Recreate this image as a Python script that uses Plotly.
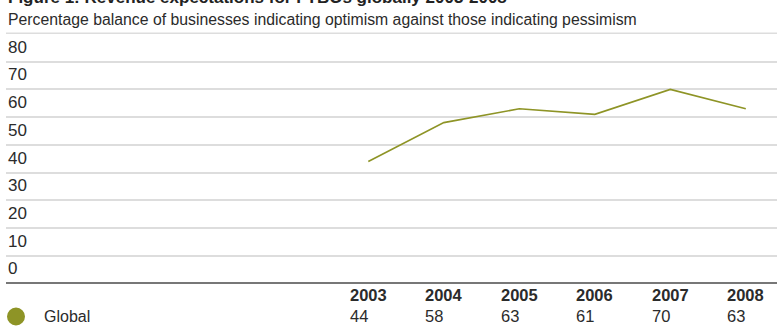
import plotly.graph_objects as go

# Revenue expectations, percentage balance (optimists minus pessimists)
years = [2003, 2004, 2005, 2006, 2007, 2008]
global_balance = [44, 58, 63, 61, 70, 63]
series_name = "Global"
y_ticks = [0, 10, 20, 30, 40, 50, 60, 70, 80]

title_text = "Figure 1: Revenue expectations for FTBOs globally 2003-2008"
subtitle_text = "Percentage balance of businesses indicating optimism against those indicating pessimism"

W, H = 777, 327
OLIVE = "#8e9426"
FONT = "Liberation Sans, Arial, sans-serif"
TEXT = "#2b2b2b"

# pixel helpers for layout placement
def px(x):
    return x / W

def py(y):
    return 1 - y / H

# axis scale: value 0 sits at y=283.3px, value 80 at y=61.7px
y_per_unit = (283.3 - 61.7) / 80.0
y_lo = -(H - 283.3) / y_per_unit
y_hi = 80 + 61.7 / y_per_unit

# x scale: 2003 at 368.3px, 75.5px per year, axis starts at 6px
x_per_year = 75.5
x_left_px = 6
x_lo = years[0] - (368.3 - x_left_px) / x_per_year
x_hi = years[-1] + (W - (368.3 + 5 * x_per_year)) / x_per_year

fig = go.Figure()
fig.add_trace(go.Scatter(
    x=years, y=global_balance, mode="lines", name=series_name,
    line=dict(color=OLIVE, width=1.6), hoverinfo="skip", showlegend=False,
))

annotations = []
# title (partly above the visible area) and subtitle
annotations.append(dict(
    text=f"<b>{title_text}</b>", xref="paper", yref="paper",
    x=px(6), y=py(9), xanchor="left", yanchor="bottom", showarrow=False,
    font=dict(family=FONT, size=17, color="#222")))
annotations.append(dict(
    text=subtitle_text, xref="paper", yref="paper",
    x=px(6), y=py(19), xanchor="left", yanchor="middle", showarrow=False,
    font=dict(family=FONT, size=15.8, color=TEXT)))

# y labels sit just above their gridlines
for t in y_ticks:
    annotations.append(dict(
        text=str(t), xref="paper", yref="y", x=px(6), y=t,
        xanchor="left", yanchor="bottom", yshift=3, showarrow=False,
        font=dict(family=FONT, size=17, color=TEXT)))

# data table under the chart
for yr, v in zip(years, global_balance):
    annotations.append(dict(
        text=f"<b>{yr}</b><br>{v}", xref="x", yref="paper", x=yr, y=py(305),
        xanchor="center", yanchor="middle", align="left", showarrow=False,
        font=dict(family=FONT, size=16.5, color=TEXT)))

annotations.append(dict(
    text=series_name, xref="paper", yref="paper", x=px(42), y=py(316.5),
    xanchor="left", yanchor="middle", showarrow=False,
    font=dict(family=FONT, size=16, color=TEXT)))

shapes = [
    # separator under the subtitle
    dict(type="line", xref="paper", yref="paper", x0=px(6), x1=1,
         y0=py(33.3), y1=py(33.3), line=dict(color="#dddddd", width=1.5)),
    # legend swatch
    dict(type="circle", xref="paper", yref="paper",
         x0=px(7), x1=px(25), y0=py(325.5), y1=py(307.5),
         fillcolor=OLIVE, line=dict(width=0)),
]

fig.update_layout(
    width=W, height=H, margin=dict(l=0, r=0, t=0, b=0),
    paper_bgcolor="white", plot_bgcolor="white",
    showlegend=False, annotations=annotations, shapes=shapes,
    xaxis=dict(range=[x_lo, x_hi], domain=[px(x_left_px), 1],
               showgrid=False, zeroline=False, showticklabels=False,
               showline=False, fixedrange=True),
    yaxis=dict(range=[y_lo, y_hi], tickvals=y_ticks, showticklabels=False,
               showgrid=True, gridcolor="#dddddd", gridwidth=1.5,
               zeroline=True, zerolinecolor="#777777", zerolinewidth=2,
               showline=False, fixedrange=True),
)

fig.write_html("out.html")
